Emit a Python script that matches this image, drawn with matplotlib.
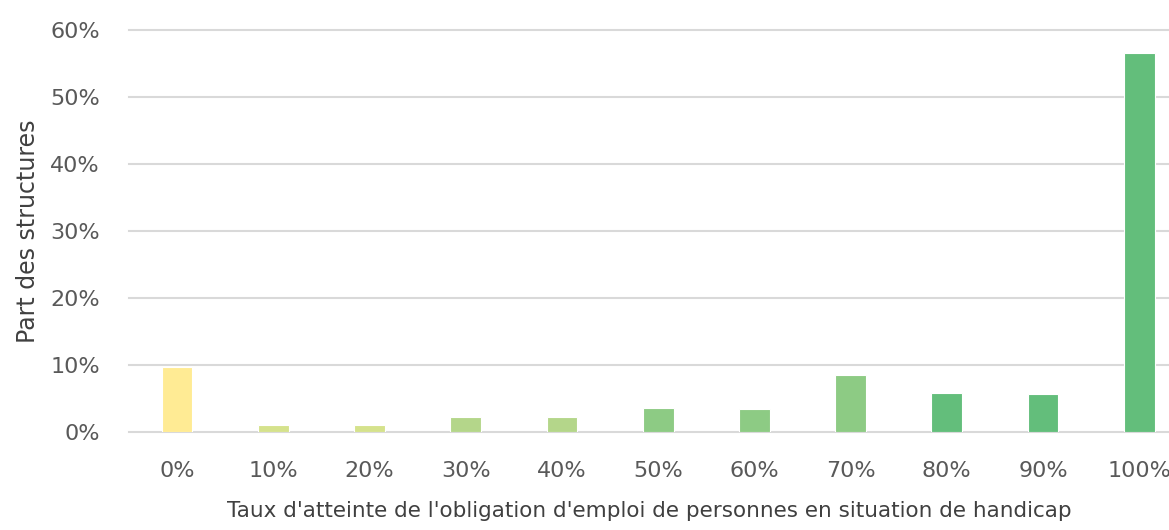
import matplotlib.pyplot as plt
from matplotlib.ticker import PercentFormatter

plt.rcParams['font.family'] = ['DejaVu Sans']

# taux d'atteinte (categories) and share of structures (%)
categories = ['0%', '10%', '20%', '30%', '40%', '50%', '60%', '70%', '80%', '90%', '100%']
shares = [9.7, 1.0, 1.0, 2.2, 2.2, 3.6, 3.4, 8.5, 5.8, 5.6, 56.5]
colors = ['#FFEB94', '#D5E28C', '#D5E28C', '#B4D68A', '#B4D68A', '#8DCB84',
          '#8DCB84', '#8DCB84', '#63BE7B', '#63BE7B', '#63BE7B']

W, H = 1169, 530
fig = plt.figure(figsize=(W / 100, H / 100), dpi=100)
ax = fig.add_axes([129 / W, (H - 432) / H, 1 - 129 / W, (432 - 30) / H])

x = range(len(categories))
ax.bar(x, shares, width=0.32, color=colors, edgecolor='white', linewidth=0.8, zorder=3)

ax.set_ylim(0, 60)
ax.set_yticks(range(0, 61, 10))
ax.yaxis.set_major_formatter(PercentFormatter(decimals=0))
ax.set_xlim(-0.5, 10.31)
ax.set_xticks(list(x))
ax.set_xticklabels(categories)

ax.grid(axis='y', color='#D9D9D9', linewidth=1.5, zorder=0)
for line in ax.get_ygridlines():
    line.set_clip_on(False)
for s in ax.spines.values():
    s.set_visible(False)
ax.tick_params(axis='both', length=0, labelsize=16, labelcolor='#595959')
ax.tick_params(axis='y', pad=21)
ax.tick_params(axis='x', pad=21)

ax.set_ylabel('Part des structures', fontsize=17, color='#404040', labelpad=7)
ax.set_xlabel("Taux d'atteinte de l'obligation d'emploi de personnes en situation de handicap",
              fontsize=15.5, color='#404040', labelpad=14)

fig.savefig('out.png', dpi=100)
plt.close()
